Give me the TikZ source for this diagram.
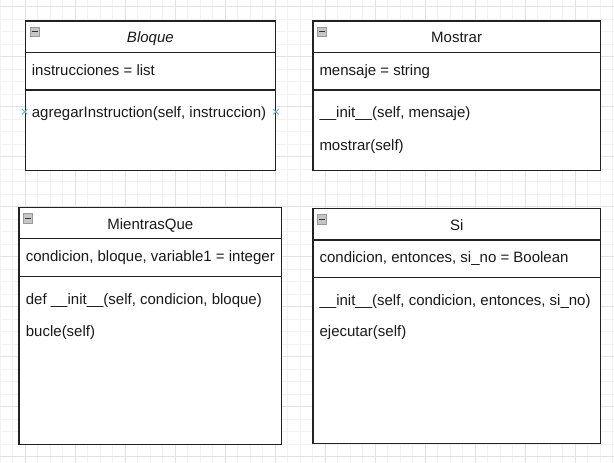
\documentclass[tikz,border=0pt]{standalone}
\usepackage{fontspec}
\setmainfont{Liberation Sans}
\usetikzlibrary{shapes.misc}
\definecolor{gridminor}{HTML}{F2F2F2}
\definecolor{gridmajor}{HTML}{E2E2E2}
\definecolor{boxline}{HTML}{222222}
\definecolor{iconfill}{HTML}{C6C6C6}
\definecolor{iconline}{HTML}{999999}
\definecolor{handle}{HTML}{5AB4DE}
\tikzset{
  classbox/.style={draw=boxline, line width=1.3pt, fill=white, anchor=north west, inner sep=0pt},
  sepline/.style={draw=boxline, line width=1.2pt},
  member/.style={anchor=base west, inner sep=0pt, font=\fontsize{15}{18}\selectfont, text=black!90},
  title/.style={anchor=base, inner sep=0pt, font=\fontsize{15}{18}\selectfont, text=black!90},
  collapseicon/.style={draw=iconline, fill=iconfill, line width=0.6pt, minimum width=9pt, minimum height=9.5pt, inner sep=0pt, anchor=north west},
  minusbar/.style={draw=black!80, line width=1.2pt},
  conhandle/.style={cross out, draw=handle, line width=0.9pt, minimum size=4.5pt, inner sep=0pt},
  gminor/.style={draw=gridminor, line width=0.7pt},
  gmajor/.style={draw=gridmajor, line width=0.8pt}
}
\begin{document}
\begin{tikzpicture}[x=1pt,y=-1pt]
\useasboundingbox[fill=white] (0,0) rectangle (614,463);
% grid
\foreach \x in {0,12.5,...,612.5} \draw[gminor] (\x,0) -- (\x,463);
\foreach \y in {6.7,19.2,...,460} \draw[gminor] (0,\y) -- (614,\y);
\foreach \x in {25,75,...,575} \draw[gmajor] (\x,0) -- (\x,463);
\foreach \y in {6.7,56.7,...,460} \draw[gmajor] (0,\y) -- (614,\y);

% ---------- Bloque ----------
\node[classbox, minimum width=250pt, minimum height=149.7pt] (bloque) at (24.7,20.3) {};
\draw[sepline] ([yshift=-32pt]bloque.north west) -- ([yshift=-32pt]bloque.north east);
\draw[sepline] ([yshift=-69.7pt]bloque.north west) -- ([yshift=-69.7pt]bloque.north east);
\node[title] (bloqueT) at ([yshift=-21.7pt]bloque.north) {\itshape Bloque};
\node[member] (bloqueA) at ([xshift=7pt,yshift=-55pt]bloque.north west) {instrucciones = list};
\node[member] (bloqueM1) at ([xshift=7pt,yshift=-97pt]bloque.north west) {agregarInstruction(self, instruccion)};
\node[collapseicon] (bloqueI) at ([xshift=5pt,yshift=-6.5pt]bloque.north west) {};
\draw[minusbar] ([xshift=1.8pt]bloqueI.west) -- ([xshift=-1.8pt]bloqueI.east);
\node[conhandle] (bloqueHL) at ([yshift=-91.4pt]bloque.north west) {};
\node[conhandle] (bloqueHR) at ([yshift=-91.4pt]bloque.north east) {};

% ---------- Mostrar ----------
\node[classbox, minimum width=287.4pt, minimum height=149.7pt] (mostrar) at (312.3,20.3) {};
\draw[sepline] ([yshift=-32pt]mostrar.north west) -- ([yshift=-32pt]mostrar.north east);
\draw[sepline] ([yshift=-69.7pt]mostrar.north west) -- ([yshift=-69.7pt]mostrar.north east);
\node[title] (mostrarT) at ([yshift=-21.7pt]mostrar.north) {Mostrar};
\node[member] (mostrarA) at ([xshift=7pt,yshift=-55pt]mostrar.north west) {mensaje = string};
\node[member] (mostrarM1) at ([xshift=7pt,yshift=-97pt]mostrar.north west) {\_\_init\_\_(self, mensaje)};
\node[member] (mostrarM2) at ([xshift=7pt,yshift=-129.7pt]mostrar.north west) {mostrar(self)};
\node[collapseicon] (mostrarI) at ([xshift=5pt,yshift=-6.5pt]mostrar.north west) {};
\draw[minusbar] ([xshift=1.8pt]mostrarI.west) -- ([xshift=-1.8pt]mostrarI.east);

% ---------- MientrasQue ----------
\node[classbox, minimum width=262.7pt, minimum height=237pt] (mientras) at (18.3,206.7) {};
\draw[sepline] ([yshift=-32pt]mientras.north west) -- ([yshift=-32pt]mientras.north east);
\draw[sepline] ([yshift=-69.6pt]mientras.north west) -- ([yshift=-69.6pt]mientras.north east);
\node[title] (mientrasT) at ([yshift=-22.4pt]mientras.north) {MientrasQue};
\node[member] (mientrasA) at ([xshift=7.4pt,yshift=-55pt]mientras.north west) {condicion, bloque, variable1 = integer};
\node[member] (mientrasM1) at ([xshift=7.4pt,yshift=-97.6pt]mientras.north west) {def \_\_init\_\_(self, condicion, bloque)};
\node[member] (mientrasM2) at ([xshift=7.4pt,yshift=-130pt]mientras.north west) {bucle(self)};
\node[collapseicon] (mientrasI) at ([xshift=5pt,yshift=-6.5pt]mientras.north west) {};
\draw[minusbar] ([xshift=1.8pt]mientrasI.west) -- ([xshift=-1.8pt]mientrasI.east);

% ---------- Si ----------
\node[classbox, minimum width=287.7pt, minimum height=235.5pt] (si) at (312.2,207.6) {};
\draw[sepline] ([yshift=-32.3pt]si.north west) -- ([yshift=-32.3pt]si.north east);
\draw[sepline] ([yshift=-69.7pt]si.north west) -- ([yshift=-69.7pt]si.north east);
\node[title] (siT) at ([yshift=-22.4pt]si.north) {Si};
\node[member] (siA) at ([xshift=7.2pt,yshift=-54.7pt]si.north west) {condicion, entonces, si\_no = Boolean};
\node[member] (siM1) at ([xshift=7.2pt,yshift=-97.4pt]si.north west) {\_\_init\_\_(self, condicion, entonces, si\_no)};
\node[member] (siM2) at ([xshift=7.2pt,yshift=-129.1pt]si.north west) {ejecutar(self)};
\node[collapseicon] (siI) at ([xshift=5pt,yshift=-6.5pt]si.north west) {};
\draw[minusbar] ([xshift=1.8pt]siI.west) -- ([xshift=-1.8pt]siI.east);
\end{tikzpicture}
\end{document}
